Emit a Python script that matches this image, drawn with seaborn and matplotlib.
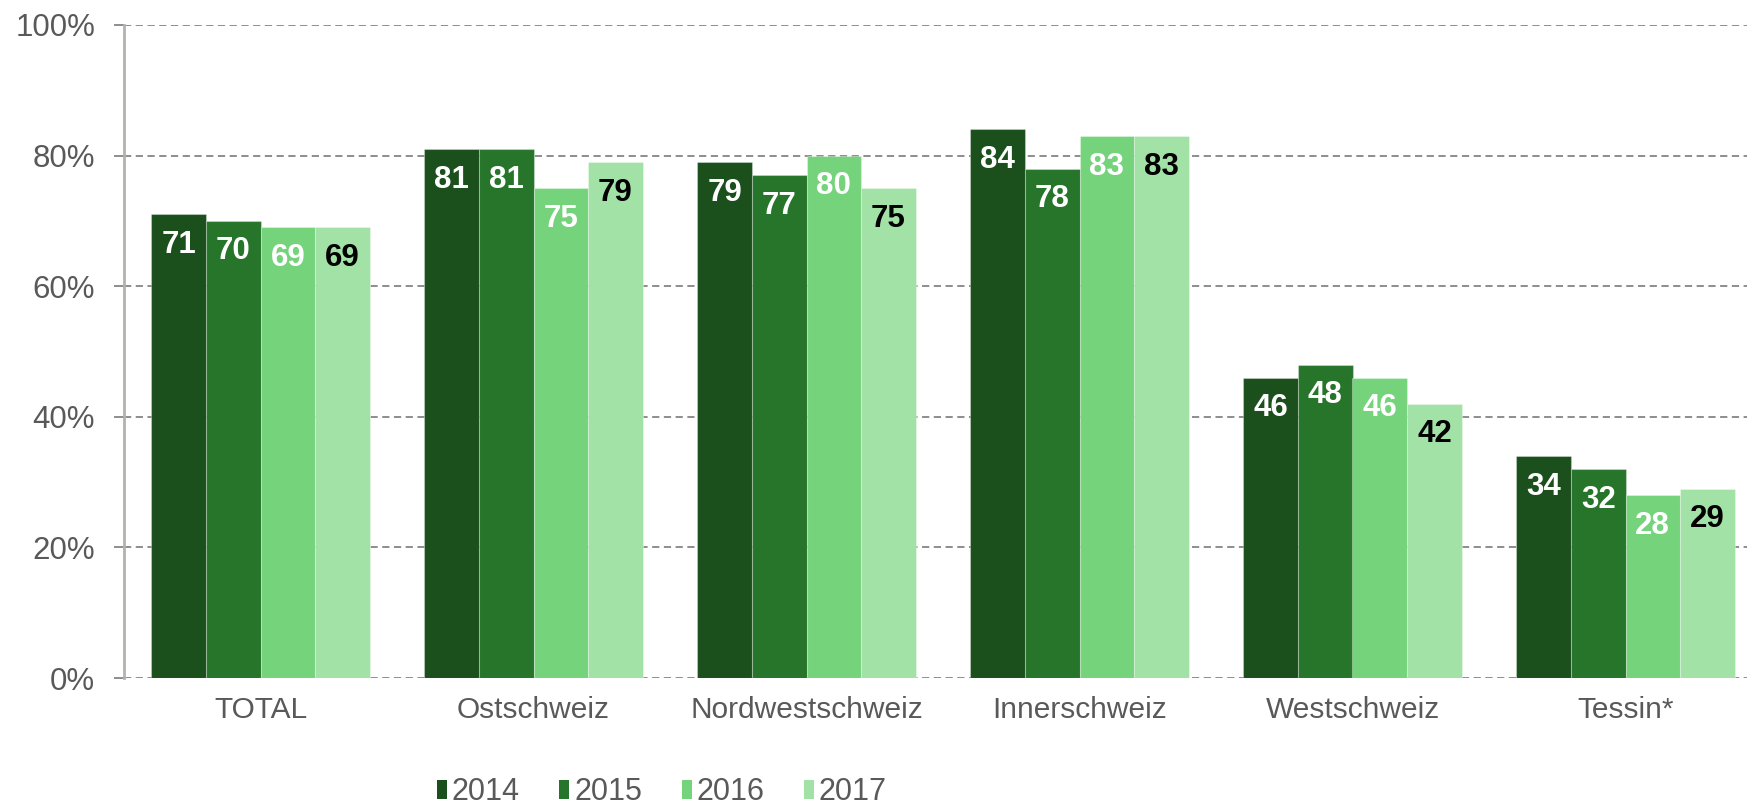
import matplotlib
matplotlib.use("Agg")
import matplotlib.pyplot as plt
from matplotlib.ticker import FuncFormatter
from matplotlib import font_manager
import seaborn as sns
import pandas as pd

# Share of respondents per region and survey year (percent)
regions = ["TOTAL", "Ostschweiz", "Nordwestschweiz", "Innerschweiz", "Westschweiz", "Tessin*"]
years = ["2014", "2015", "2016", "2017"]
values_2014 = [71, 81, 79, 84, 46, 34]
values_2015 = [70, 81, 77, 78, 48, 32]
values_2016 = [69, 75, 80, 83, 46, 28]
values_2017 = [69, 79, 75, 83, 42, 29]
yticks = [0, 20, 40, 60, 80, 100]

colors = ["#1b4f1c", "#26752b", "#75d47b", "#a2e2a6"]
label_colors = ["white", "white", "white", "black"]

series = [values_2014, values_2015, values_2016, values_2017]
df = pd.DataFrame(
    [(r, y, v) for y, vals in zip(years, series) for r, v in zip(regions, vals)],
    columns=["Region", "Jahr", "Wert"],
)

sns.set_style("white")
plt.rcParams["font.family"] = ["Liberation Sans", "DejaVu Sans"]

W, H = 1747, 805
fig = plt.figure(figsize=(W / 100, H / 100), dpi=100)
ax = fig.add_axes([124 / W, 127 / H, (W - 124) / W, 653 / H])

sns.barplot(
    data=df, x="Region", y="Wert", hue="Jahr", order=regions, hue_order=years,
    palette=colors, saturation=1, width=0.8, ax=ax, legend=False, errorbar=None,
    edgecolor=(1, 1, 1, 0.3), linewidth=0.8, zorder=3,
)

ax.set_ylim(0, 100)
ax.set_xlim(-0.5, -0.5 + (W - 124) / 273)
ax.set_yticks(yticks)
ax.yaxis.set_major_formatter(FuncFormatter(lambda v, _: f"{v:.0f}%"))
ax.grid(axis="y", color="#858585", linestyle=(0, (4, 2.5)), linewidth=1.3, zorder=0)
ax.grid(axis="x", visible=False)
ax.set_axisbelow(True)

for side in ["top", "right", "bottom"]:
    ax.spines[side].set_visible(False)
ax.spines["left"].set_color("#b3b3ab")
ax.spines["left"].set_linewidth(2)

ax.tick_params(axis="y", length=7.2, width=1.3, color="#858585", pad=13.5,
               labelsize=22.5, labelcolor="#595959", left=True)
ax.tick_params(axis="x", length=0, pad=13, labelsize=21.5, labelcolor="#595959")
ax.set_xlabel("")
ax.set_ylabel("")

# Value labels inside the top of each bar
for container, lc in zip(ax.containers, label_colors):
    texts = ax.bar_label(container, fmt="%.0f", padding=-22, color=lc,
                         fontsize=22.5, fontweight="bold")
    for t in texts:
        t.set_va("center")

# Legend below the chart, in a condensed face when one is available
installed = {f.name for f in font_manager.fontManager.ttflist}
if "Liberation Sans Narrow" in installed:
    legend_family, colspace = "Liberation Sans Narrow", 1.75
else:
    legend_family, colspace = "Liberation Sans", 1.3

handles = [plt.Rectangle((0, 0), 1, 1, facecolor=c, edgecolor="none") for c in colors]
leg = fig.legend(
    handles, years, loc="center left", bbox_to_anchor=(437 / W, 13 / H),
    ncol=4, frameon=False, handlelength=0.33, handleheight=0.56,
    handletextpad=0.15, columnspacing=colspace, borderpad=0, borderaxespad=0,
    prop={"family": legend_family, "size": 22},
)
for t in leg.get_texts():
    t.set_color("#595959")

fig.savefig("out.png", dpi=100)
